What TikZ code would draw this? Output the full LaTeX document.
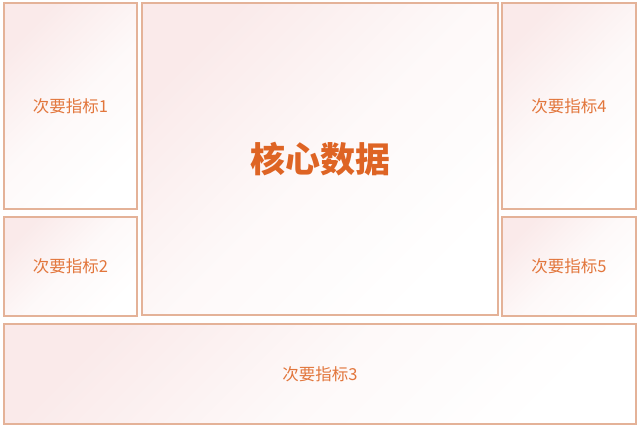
\documentclass[tikz,border=0pt]{standalone}
\usepackage{fontspec}
\newfontfamily\cjk{Noto Sans CJK SC}
\definecolor{edge}{RGB}{228,178,152}
\definecolor{pinkbg}{RGB}{250,234,234}
\definecolor{coretext}{RGB}{222,100,36}
\definecolor{subtext}{RGB}{226,118,60}
\begin{document}
\begin{tikzpicture}[x=1pt,y=-1pt,
  panel/.style={draw=edge, line width=1.2pt, inner sep=0pt,
    top color=pinkbg, bottom color=white, middle color=white!70!pinkbg, shading angle=45,
    anchor=center},
  sublabel/.style={text=subtext, font=\cjk\fontsize{16.5}{20}\selectfont},
  corelabel/.style={text=coretext, font=\cjk\bfseries\fontsize{35}{42}\selectfont}]
\useasboundingbox (0,0) rectangle (640,427);
\fill[white] (0,0) rectangle (640,427);
\node[panel, sublabel, minimum width=133pt, minimum height=206pt] (n1) at (70.5,106) {次要指标1};
\node[panel, sublabel, minimum width=133pt, minimum height=99pt] (n2) at (70.5,266.5) {次要指标2};
\node[panel, corelabel, minimum width=356pt, minimum height=312pt] (core) at (320,159) {核心数据};
\node[panel, sublabel, minimum width=134pt, minimum height=206pt] (n4) at (569,106) {次要指标4};
\node[panel, sublabel, minimum width=134pt, minimum height=99pt] (n5) at (569,266.5) {次要指标5};
\node[panel, sublabel, minimum width=632pt, minimum height=100pt] (n3) at (320,374) {次要指标3};
\end{tikzpicture}
\end{document}
